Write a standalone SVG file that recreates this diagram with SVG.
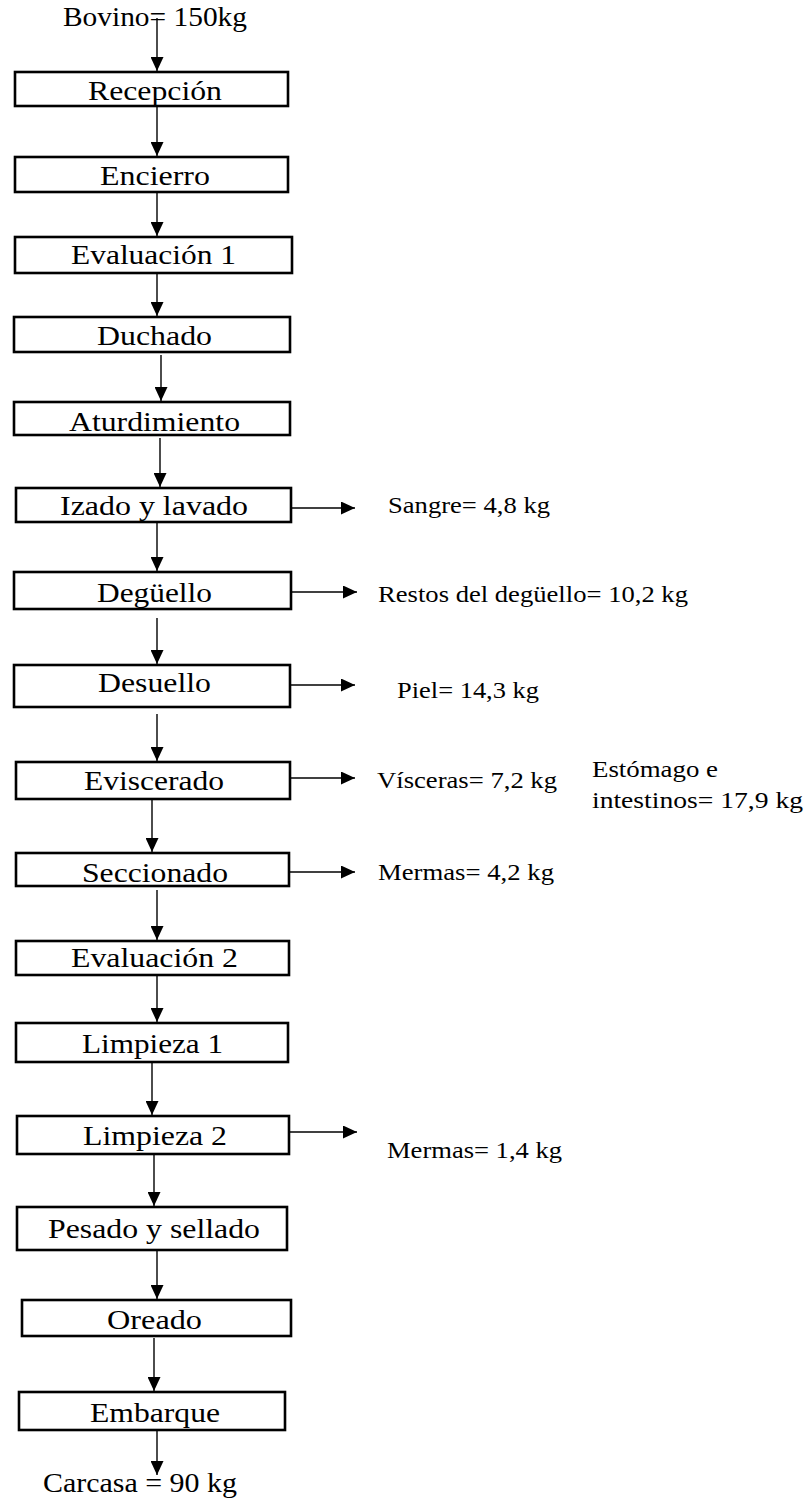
<svg xmlns="http://www.w3.org/2000/svg" width="812" height="1498" viewBox="0 0 812 1498">
  <style>
    .box { fill: #ffffff; stroke: #000000; stroke-width: 2.6; }
    .step { font-family: "Liberation Serif", "Times New Roman", serif; font-size: 27px; fill: #000000; text-anchor: middle; }
    .io { font-family: "Liberation Serif", "Times New Roman", serif; font-size: 27px; fill: #000000; }
    .out { font-family: "Liberation Serif", "Times New Roman", serif; font-size: 22.5px; fill: #000000; }
    .flow { fill: none; stroke: #000000; stroke-width: 1.4; marker-end: url(#head); }
  </style>
  <defs>
    <marker id="head" viewBox="0 0 14 13" refX="14" refY="6.5" markerWidth="14" markerHeight="13" markerUnits="userSpaceOnUse" orient="auto">
      <path d="M0,0 L14,6.5 L0,13 z" fill="#000000"/>
    </marker>
  </defs>
  <rect width="812" height="1498" fill="#ffffff"/>

  <!-- input / output labels -->
  <g id="input">
    <text class="io" x="63" y="26" textLength="184" lengthAdjust="spacingAndGlyphs">Bovino= 150kg</text>
  </g>
  <g id="output">
    <text class="io" x="43" y="1492" textLength="194" lengthAdjust="spacingAndGlyphs">Carcasa = 90 kg</text>
  </g>

  <!-- process steps -->
  <g id="recepcion">
    <rect class="box" x="15" y="72" width="273" height="34"/>
    <text class="step" x="155" y="100" textLength="134" lengthAdjust="spacingAndGlyphs">Recepción</text>
  </g>
  <g id="encierro">
    <rect class="box" x="15" y="157" width="273" height="35"/>
    <text class="step" x="155" y="185" textLength="110" lengthAdjust="spacingAndGlyphs">Encierro</text>
  </g>
  <g id="evaluacion1">
    <rect class="box" x="15" y="237" width="277" height="36"/>
    <text class="step" x="153.5" y="264" textLength="165" lengthAdjust="spacingAndGlyphs">Evaluación 1</text>
  </g>
  <g id="duchado">
    <rect class="box" x="14" y="317" width="276" height="35"/>
    <text class="step" x="154.5" y="345" textLength="115" lengthAdjust="spacingAndGlyphs">Duchado</text>
  </g>
  <g id="aturdimiento">
    <rect class="box" x="14" y="402" width="276" height="33"/>
    <text class="step" x="154.5" y="431" textLength="171" lengthAdjust="spacingAndGlyphs">Aturdimiento</text>
  </g>
  <g id="izado">
    <rect class="box" x="16" y="488" width="275" height="34"/>
    <text class="step" x="154" y="515" textLength="188" lengthAdjust="spacingAndGlyphs">Izado y lavado</text>
  </g>
  <g id="deguello">
    <rect class="box" x="14" y="572" width="277" height="37"/>
    <text class="step" x="154.5" y="602" textLength="115" lengthAdjust="spacingAndGlyphs">Degüello</text>
  </g>
  <g id="desuello">
    <rect class="box" x="14" y="665" width="276" height="42"/>
    <text class="step" x="154.5" y="692" textLength="113" lengthAdjust="spacingAndGlyphs">Desuello</text>
  </g>
  <g id="eviscerado">
    <rect class="box" x="16" y="762" width="274" height="37"/>
    <text class="step" x="154" y="790" textLength="140" lengthAdjust="spacingAndGlyphs">Eviscerado</text>
  </g>
  <g id="seccionado">
    <rect class="box" x="16" y="853" width="273" height="33"/>
    <text class="step" x="155" y="882" textLength="146" lengthAdjust="spacingAndGlyphs">Seccionado</text>
  </g>
  <g id="evaluacion2">
    <rect class="box" x="16" y="941" width="273" height="34"/>
    <text class="step" x="154.5" y="967" textLength="167" lengthAdjust="spacingAndGlyphs">Evaluación 2</text>
  </g>
  <g id="limpieza1">
    <rect class="box" x="16" y="1023" width="272" height="39"/>
    <text class="step" x="152.5" y="1053" textLength="141" lengthAdjust="spacingAndGlyphs">Limpieza 1</text>
  </g>
  <g id="limpieza2">
    <rect class="box" x="17" y="1116" width="272" height="38"/>
    <text class="step" x="155" y="1145" textLength="144" lengthAdjust="spacingAndGlyphs">Limpieza 2</text>
  </g>
  <g id="pesado">
    <rect class="box" x="17" y="1207" width="270" height="43"/>
    <text class="step" x="154" y="1238" textLength="212" lengthAdjust="spacingAndGlyphs">Pesado y sellado</text>
  </g>
  <g id="oreado">
    <rect class="box" x="22" y="1300" width="269" height="36"/>
    <text class="step" x="154.5" y="1329" textLength="95" lengthAdjust="spacingAndGlyphs">Oreado</text>
  </g>
  <g id="embarque">
    <rect class="box" x="19" y="1392" width="266" height="38"/>
    <text class="step" x="155" y="1422" textLength="130" lengthAdjust="spacingAndGlyphs">Embarque</text>
  </g>

  <!-- by-products -->
  <g id="sangre">
    <text class="out" x="388" y="513" textLength="162" lengthAdjust="spacingAndGlyphs">Sangre= 4,8 kg</text>
  </g>
  <g id="restos">
    <text class="out" x="378" y="602" textLength="310" lengthAdjust="spacingAndGlyphs">Restos del degüello= 10,2 kg</text>
  </g>
  <g id="piel">
    <text class="out" x="397" y="698" textLength="142" lengthAdjust="spacingAndGlyphs">Piel= 14,3 kg</text>
  </g>
  <g id="visceras">
    <text class="out" x="377" y="788" textLength="180" lengthAdjust="spacingAndGlyphs">Vísceras= 7,2 kg</text>
  </g>
  <g id="estomago">
    <text class="out" x="592" y="777" textLength="126" lengthAdjust="spacingAndGlyphs">Estómago e</text>
    <text class="out" x="592" y="808" textLength="211" lengthAdjust="spacingAndGlyphs">intestinos= 17,9 kg</text>
  </g>
  <g id="mermas1">
    <text class="out" x="378" y="880" textLength="176" lengthAdjust="spacingAndGlyphs">Mermas= 4,2 kg</text>
  </g>
  <g id="mermas2">
    <text class="out" x="387" y="1158" textLength="175" lengthAdjust="spacingAndGlyphs">Mermas= 1,4 kg</text>
  </g>

  <!-- connectors -->
  <g id="connectors">
    <line class="flow" x1="157" y1="18" x2="157" y2="71"/>
    <line class="flow" x1="157" y1="107" x2="157" y2="156"/>
    <line class="flow" x1="157" y1="193" x2="157" y2="236"/>
    <line class="flow" x1="157" y1="274" x2="157" y2="316"/>
    <line class="flow" x1="161" y1="355" x2="161" y2="401"/>
    <line class="flow" x1="160" y1="438" x2="160" y2="487"/>
    <line class="flow" x1="157" y1="523" x2="157" y2="571"/>
    <line class="flow" x1="157" y1="618" x2="157" y2="664"/>
    <line class="flow" x1="157" y1="714" x2="157" y2="761"/>
    <line class="flow" x1="152" y1="800" x2="152" y2="852"/>
    <line class="flow" x1="157" y1="890" x2="157" y2="940"/>
    <line class="flow" x1="157" y1="976" x2="157" y2="1022"/>
    <line class="flow" x1="152" y1="1063" x2="152" y2="1115"/>
    <line class="flow" x1="154" y1="1155" x2="154" y2="1206"/>
    <line class="flow" x1="157" y1="1251" x2="157" y2="1299"/>
    <line class="flow" x1="154" y1="1338" x2="154" y2="1391"/>
    <line class="flow" x1="157" y1="1431" x2="157" y2="1475"/>

    <line class="flow" x1="291" y1="508" x2="355" y2="508"/>
    <line class="flow" x1="291" y1="592" x2="357" y2="592"/>
    <line class="flow" x1="290" y1="685" x2="355" y2="685"/>
    <line class="flow" x1="290" y1="778" x2="355" y2="778"/>
    <line class="flow" x1="289" y1="872" x2="355" y2="872"/>
    <line class="flow" x1="289" y1="1132" x2="357" y2="1132"/>
  </g>
</svg>
